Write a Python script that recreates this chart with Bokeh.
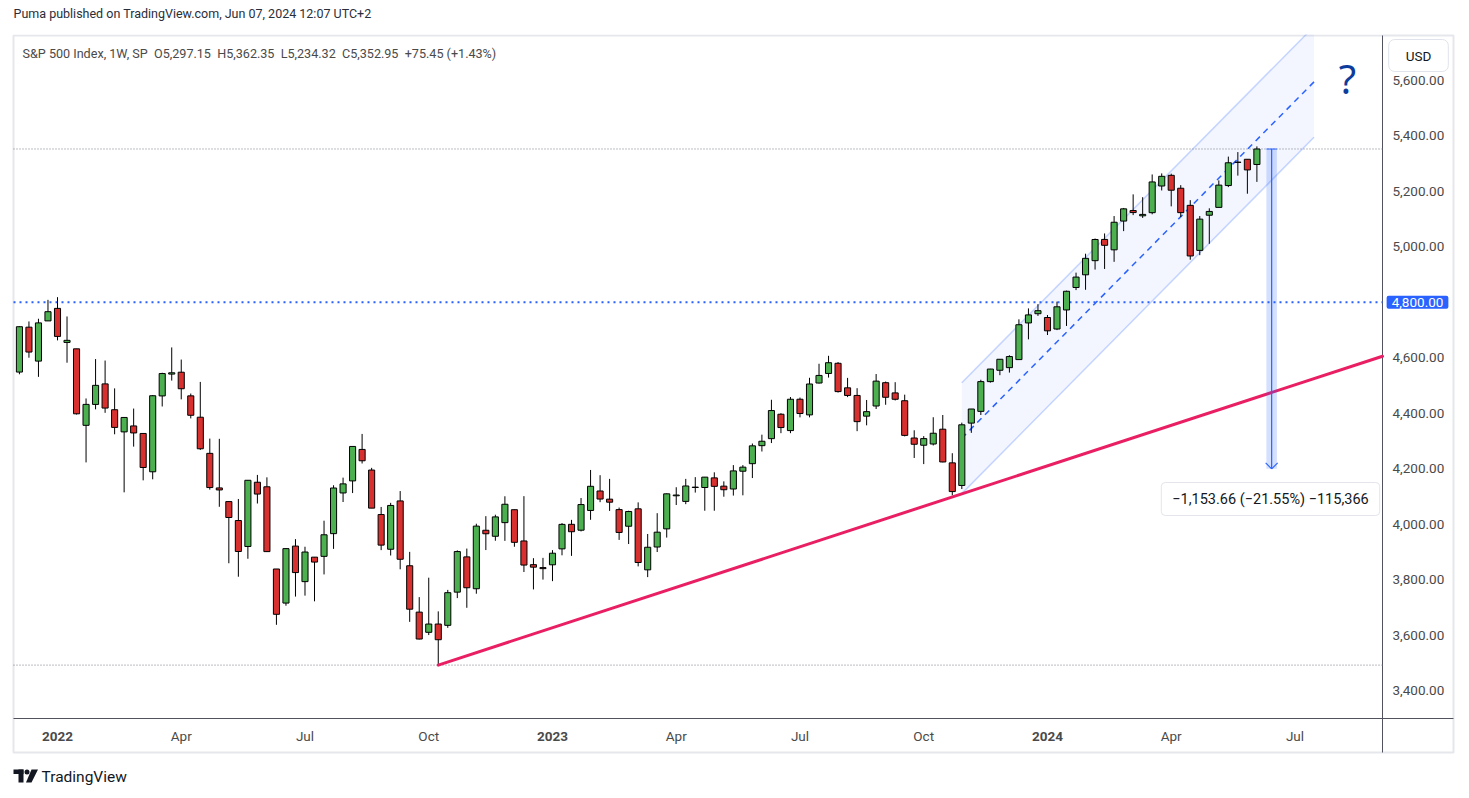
import pandas as pd
from bokeh.plotting import figure
from bokeh.models import (Range1d, FixedTicker, NumeralTickFormatter, Label,
                          LinearAxis, ColumnDataSource)
from bokeh.embed import file_html
from bokeh.resources import INLINE

# ---------------- data (weekly S&P 500) ----------------
FIRST_INDEX = -4  # week of 2021-12-06; index 0 = week of 2022-01-03

opens = [4548.4, 4710.3, 4587.9, 4733.0,
         4778.1, 4655.3, 4632.2, 4356.3, 4431.8, 4505.8, 4412.6, 4332.7, 4354.2, 4327.0,
         4188.8, 4462.4, 4541.1, 4547.9, 4462.6, 4385.6, 4255.3, 4130.6, 4081.3, 4013.0,
         3919.4, 4151.1, 4134.7, 3838.2, 3715.3, 3920.8, 3792.6, 3880.9, 3883.8, 3965.7,
         4112.4, 4155.9, 4269.4, 4195.1, 4034.6, 3909.4, 4083.7, 3849.9, 3682.7, 3609.8,
         3639.7, 3635.0, 3754.7, 3881.9, 3767.0, 3977.9, 3956.2, 4005.4, 4052.0, 3939.3,
         3853.8, 3843.3,
         3853.3, 3910.8, 3999.3, 3978.1, 4049.3, 4119.5, 4090.1, 4052.4, 3992.4, 4055.2,
         3835.1, 3917.5, 3982.9, 4102.2, 4082.0, 4132.1, 4132.1, 4166.8, 4137.0, 4126.7,
         4190.8, 4218.0, 4283.0, 4308.3, 4396.4, 4337.4, 4450.5, 4394.0, 4508.9, 4543.4,
         4580.1, 4491.6, 4464.1, 4389.4, 4426.0, 4510.1, 4473.3, 4445.1, 4310.6, 4284.5,
         4289.0, 4342.4, 4221.0, 4139.4, 4364.3, 4406.7, 4514.0, 4554.9, 4564.4, 4593.4,
         4725.6, 4758.9,
         4745.2, 4703.7, 4772.4, 4853.4, 4899.2, 4950.2, 5026.8, 4989.3, 5093.0, 5131.0,
         5112.0, 5123.3, 5219.5, 5258.0, 5211.4, 5149.7, 4987.3, 5114.1, 5142.4, 5221.1,
         5305.4, 5315.9, 5297.15]

highs = [4713.6, 4731.0, 4740.7, 4808.9,
         4818.6, 4749.0, 4632.2, 4453.2, 4595.3, 4590.0, 4489.6, 4385.3, 4416.8, 4327.0,
         4465.4, 4546.0, 4637.3, 4593.5, 4471.0, 4512.9, 4308.5, 4307.7, 4081.3, 4090.7,
         4158.5, 4177.5, 4168.8, 3838.2, 3913.7, 3945.9, 3918.5, 3880.9, 4012.4, 4140.2,
         4167.7, 4280.5, 4325.3, 4203.0, 4062.0, 4076.8, 4119.3, 3899.9, 3736.7, 3806.9,
         3685.4, 3762.8, 3905.4, 3911.8, 4001.5, 4028.8, 4034.0, 4100.5, 4052.5, 4100.9,
         3877.2, 3878.4,
         3906.2, 4003.9, 4015.4, 4094.2, 4195.4, 4176.5, 4163.2, 4059.8, 4048.3, 4078.5,
         3964.5, 4039.5, 4110.8, 4133.1, 4163.2, 4169.5, 4170.1, 4186.9, 4154.3, 4212.9,
         4212.9, 4290.7, 4322.6, 4448.5, 4400.2, 4458.5, 4456.5, 4527.8, 4578.4, 4607.1,
         4584.6, 4527.4, 4490.3, 4447.8, 4541.3, 4514.3, 4512.0, 4467.0, 4338.5, 4317.3,
         4385.5, 4393.6, 4255.8, 4366.0, 4415.3, 4520.7, 4560.0, 4595.0, 4609.2, 4738.6,
         4778.0, 4793.3,
         4754.3, 4802.4, 4842.1, 4907.0, 4975.3, 5030.1, 5048.4, 5111.1, 5140.3, 5189.3,
         5179.1, 5261.1, 5264.9, 5264.0, 5222.6, 5168.4, 5111.1, 5139.1, 5239.7, 5325.5,
         5341.9, 5315.9, 5362.35]

lows = [4540.5, 4600.2, 4531.1, 4733.0,
        4662.7, 4582.2, 4395.3, 4222.6, 4414.0, 4401.4, 4324.0, 4114.7, 4279.5, 4157.9,
        4161.7, 4424.3, 4517.7, 4450.0, 4381.3, 4267.6, 4124.3, 4062.5, 3858.9, 3810.3,
        3875.1, 4074.4, 3900.2, 3636.9, 3705.7, 3738.7, 3742.1, 3721.6, 3818.6, 3910.7,
        4079.8, 4112.1, 4218.7, 4057.7, 3906.2, 3886.8, 3837.1, 3647.5, 3584.1, 3599.9,
        3491.58, 3626.0, 3733.2, 3698.2, 3749.0, 3906.5, 3940.1, 3939.6, 3918.4, 3827.3,
        3764.5, 3800.0,
        3794.3, 3887.6, 3885.5, 3973.6, 4015.6, 4079.2, 4047.7, 3943.1, 3928.2, 3847.6,
        3808.9, 3899.4, 3951.5, 4068.9, 4072.0, 4113.8, 4048.3, 4048.3, 4098.9, 4103.0,
        4103.9, 4166.2, 4261.9, 4292.4, 4328.1, 4328.1, 4385.1, 4385.1, 4507.0, 4528.6,
        4474.6, 4458.1, 4335.3, 4356.3, 4415.2, 4430.5, 4446.0, 4316.5, 4238.6, 4216.5,
        4283.8, 4223.0, 4103.8, 4126.6, 4329.2, 4393.6, 4510.4, 4537.2, 4546.5, 4593.4,
        4666.4, 4751.0,
        4682.1, 4699.8, 4714.8, 4844.1, 4845.2, 4918.1, 4920.3, 4946.0, 5056.8, 5114.5,
        5104.4, 5117.5, 5203.4, 5146.1, 5107.9, 4953.6, 4970.0, 5011.1, 5142.4, 5215.6,
        5256.9, 5191.7, 5234.32]

closes = [4712.0, 4620.6, 4725.8, 4766.2,
          4677.0, 4662.9, 4397.9, 4431.9, 4500.5, 4418.6, 4348.9, 4384.7, 4328.9, 4204.3,
          4463.1, 4543.1, 4545.9, 4488.3, 4392.6, 4271.8, 4131.9, 4123.3, 4023.9, 3901.4,
          4158.2, 4108.5, 3900.9, 3674.8, 3911.7, 3825.3, 3899.4, 3863.2, 3961.6, 4130.3,
          4145.2, 4280.2, 4228.5, 4057.7, 3924.3, 4067.4, 3873.3, 3693.2, 3585.6, 3639.7,
          3583.1, 3752.8, 3901.1, 3770.6, 3992.9, 3965.3, 4026.1, 4071.7, 3934.4, 3852.4,
          3844.8, 3839.5,
          3895.1, 3999.1, 3972.6, 4070.6, 4136.5, 4090.5, 4079.1, 3970.0, 4045.6, 3861.6,
          3916.6, 3971.0, 4109.3, 4105.0, 4137.6, 4133.5, 4169.5, 4136.3, 4124.1, 4192.0,
          4205.5, 4282.4, 4298.9, 4409.6, 4348.3, 4450.4, 4399.0, 4505.4, 4536.3, 4582.2,
          4478.0, 4464.1, 4369.7, 4405.7, 4515.8, 4457.5, 4450.3, 4320.1, 4288.1, 4308.5,
          4327.8, 4224.2, 4117.4, 4358.3, 4415.2, 4514.0, 4559.3, 4594.6, 4604.4, 4719.2,
          4754.6, 4769.8,
          4697.2, 4783.8, 4839.8, 4891.0, 4958.6, 5026.6, 5005.6, 5088.8, 5137.1, 5123.7,
          5117.1, 5234.2, 5254.4, 5204.3, 5123.4, 4967.2, 5100.0, 5127.8, 5222.7, 5303.3,
          5304.7, 5277.5, 5352.95]

week_index = list(range(FIRST_INDEX, FIRST_INDEX + len(opens)))
week_dates = [d.strftime("%Y-%m-%d") for d in
              pd.date_range("2021-12-06", periods=len(opens), freq="W-MON")]

time_tick_index = [0, 13, 26, 39, 52, 65, 78, 91, 104, 117, 130]
time_tick_labels = ["2022", "Apr", "Jul", "Oct", "2023", "Apr", "Jul", "Oct", "2024", "Apr", "Jul"]
price_ticks = [3400, 3600, 3800, 4000, 4200, 4400, 4600, 5000, 5200, 5400, 5600]

level_line = 4800.0
low_line = min(lows)
last_close = closes[-1]

trend_anchor_x = [40, 94]
trend_anchor_y = [3491.58, 4098.0]

channel_x = [95, 132]
channel_lower = [4110.0, 5395.0]
channel_height = 400.0

measure_x = [127.0, 128.1]
measure_from = 5352.95
measure_to = 4199.29

# ---------------- layout (frame covers the page; pixel helpers) ----------------
W, H = 1469, 798
PX0, PX_PER_WEEK = 57.0, 9.519          # pixel of week index 0, pixels per week
PY_5600, PX_PER_PT = 80.0, 0.27727       # pixel of 5,600, pixels per index point
X0, X1 = -PX0 / PX_PER_WEEK, (W - PX0) / PX_PER_WEEK
Y1 = 5600 + PY_5600 / PX_PER_PT
Y0 = 5600 - (H - PY_5600) / PX_PER_PT


def xd(px):
    return X0 + px * (X1 - X0) / W


def yd(py):
    return Y1 - py * (Y1 - Y0) / H


BOX_L, BOX_R, BOX_T, BOX_B = 13, 1453, 35, 752     # chart container
PANE_R, PANE_B = 1382, 718                         # price / time axis separators

FONT = "Roboto"
TXT = "#4A4A4A"
SEP = "#50535E"

p = figure(width=W, height=H, x_range=Range1d(X0, X1), y_range=Range1d(Y0, Y1),
           y_axis_location="right", toolbar_location=None, output_backend="svg",
           min_border=0, outline_line_color=None,
           background_fill_color="white", border_fill_color="white")
p.xgrid.visible = False
p.ygrid.visible = False

# container border
p.quad(left=xd(BOX_L), right=xd(BOX_R), top=yd(BOX_T), bottom=yd(BOX_B),
       fill_color=None, line_color="#E6E7EC", line_width=2)


# axes (fixed inside the container, like TradingView's scales)
def style_axis(ax):
    ax.axis_line_color = None
    ax.major_tick_line_color = None
    ax.minor_tick_line_color = None
    ax.major_tick_out = 0
    ax.major_tick_in = 0
    ax.major_label_text_font = FONT
    ax.major_label_text_font_size = "13.5px"
    ax.major_label_text_color = TXT


xa = p.xaxis[0]
xa.fixed_location = yd(PANE_B)
xa.ticker = FixedTicker(ticks=[i for i, lab in zip(time_tick_index, time_tick_labels)
                               if not lab.isdigit()])
xa.major_label_overrides = {i: lab for i, lab in zip(time_tick_index, time_tick_labels)
                            if not lab.isdigit()}
style_axis(xa)
xa.major_label_standoff = 9

xa_years = LinearAxis(fixed_location=yd(PANE_B),
                      ticker=FixedTicker(ticks=[i for i, lab in zip(time_tick_index, time_tick_labels)
                                                if lab.isdigit()]),
                      major_label_overrides={i: lab for i, lab in zip(time_tick_index, time_tick_labels)
                                             if lab.isdigit()})
style_axis(xa_years)
xa_years.major_label_standoff = 13
xa_years.major_label_text_font_style = "bold"
p.add_layout(xa_years, "below")

ya = p.yaxis[0]
ya.fixed_location = xd(PANE_R)
ya.ticker = FixedTicker(ticks=price_ticks)
ya.formatter = NumeralTickFormatter(format="0,0.00")
style_axis(ya)
ya.major_label_standoff = 10

# separators of the price and time scales
p.segment(x0=[xd(PANE_R), xd(BOX_L)], y0=[yd(BOX_T), yd(PANE_B)],
          x1=[xd(PANE_R), xd(BOX_R)], y1=[yd(BOX_B), yd(PANE_B)],
          line_color=SEP, line_width=1)

# parallel channel
cx = [channel_x[0], channel_x[1], channel_x[1], channel_x[0]]
cy = [channel_lower[0] + channel_height, channel_lower[1] + channel_height,
      channel_lower[1], channel_lower[0]]
p.patch(cx, cy, fill_color="#2962FF", fill_alpha=0.055, line_color=None)
p.line(channel_x, [v + channel_height for v in channel_lower], line_color="#2962FF",
       line_alpha=0.25, line_width=1.5)
p.line(channel_x, channel_lower, line_color="#2962FF", line_alpha=0.25, line_width=1.5)
p.line(channel_x, [v + channel_height / 2 for v in channel_lower], line_color="#2962FF",
       line_width=1.5, line_dash="6 5")

# white cover above the container so the channel does not leak out of the pane
p.quad(left=xd(BOX_L), right=xd(PANE_R), top=yd(0), bottom=yd(BOX_T - 1),
       fill_color="white", line_color=None)

# horizontal levels (stop at the price scale)
p.segment(x0=[xd(BOX_L)] * 2, y0=[last_close, low_line], x1=[xd(PANE_R)] * 2,
          y1=[last_close, low_line], line_color="#787B86", line_width=1, line_dash="1 2")
p.segment(x0=[xd(BOX_L)], y0=[level_line], x1=[xd(PANE_R)], y1=[level_line],
          line_color="#2962FF", line_width=2, line_dash="2 4")

# candles
src = ColumnDataSource(dict(
    x=week_index, date=week_dates, o=opens, h=highs, l=lows, c=closes,
    top=[max(o, c) for o, c in zip(opens, closes)],
    bottom=[min(o, c) for o, c in zip(opens, closes)],
    color=["#4CAF50" if c >= o else "#D8302F" for o, c in zip(opens, closes)],
))
p.segment(x0="x", y0="h", x1="x", y1="l", source=src, line_color="black", line_width=1)
p.vbar(x="x", width=0.64, top="top", bottom="bottom", source=src,
       fill_color="color", line_color="black", line_width=1)

# trend line (ray up to the price scale)
slope = (trend_anchor_y[1] - trend_anchor_y[0]) / (trend_anchor_x[1] - trend_anchor_x[0])
x_end = xd(PANE_R)
p.line([trend_anchor_x[0], x_end],
       [trend_anchor_y[0], trend_anchor_y[0] + slope * (x_end - trend_anchor_x[0])],
       line_color="#E91E63", line_width=3, line_cap="round")

# price range measurement
mx_mid = (measure_x[0] + measure_x[1]) / 2
p.quad(left=measure_x[0], right=measure_x[1], top=measure_from, bottom=measure_to,
       fill_color="#2962FF", fill_alpha=0.2, line_color=None)
p.segment(x0=[mx_mid, measure_x[0]], y0=[measure_from, measure_from],
          x1=[mx_mid, measure_x[1]], y1=[measure_to, measure_from],
          line_color="#2962FF", line_width=1.2)
ax_w = 6 / PX_PER_WEEK
ay_h = 6 / PX_PER_PT
p.segment(x0=[mx_mid - ax_w, mx_mid + ax_w], y0=[measure_to + ay_h, measure_to + ay_h],
          x1=[mx_mid, mx_mid], y1=[measure_to, measure_to],
          line_color="#2962FF", line_width=1.2)


def set_box(lbl, l, r, t, b, radius):
    for val in (dict(left=l, right=r, top=t, bottom=b), max(l, t)):
        try:
            lbl.padding = val
            break
        except Exception:
            pass
    try:
        lbl.border_radius = radius
    except Exception:
        pass


def fmt_signed(v, spec, minus="\u2212"):
    return (minus if v < 0 else "+") + format(abs(v), spec)


diff = measure_to - measure_from
pct = diff / measure_from * 100
nticks = round(diff / 0.01)
measure_text = "%s (%s%%) %s" % (fmt_signed(diff, ",.2f"), fmt_signed(pct, ".2f"),
                                 fmt_signed(nticks, ",d"))
ml = Label(x=xd(1270), y=yd(498.5), text=measure_text, text_align="center",
           text_baseline="middle", text_font=FONT, text_font_size="14.5px",
           text_color="#131722", background_fill_color="white",
           border_line_color="#E3E5EA", border_line_width=1)
set_box(ml, 11, 11, 8, 8, 4)
p.add_layout(ml)

# question mark
p.add_layout(Label(x=xd(1347), y=yd(78), text="?", text_align="center",
                   text_baseline="middle", text_font="Noto Sans", text_font_size="40px",
                   text_color="#0D3C9C"))

# legend line
NB = "\u00a0"
prev_close = closes[-2]
chg = last_close - prev_close
legend = ("S&P 500 Index, 1W, SP" + NB * 2 + "O" + format(opens[-1], ",.2f") + NB * 2 +
          "H" + format(highs[-1], ",.2f") + NB * 2 + "L" + format(lows[-1], ",.2f") + NB * 2 +
          "C" + format(closes[-1], ",.2f") + NB * 2 + fmt_signed(chg, ".2f", "-") +
          " (" + fmt_signed(chg / prev_close * 100, ".2f", "-") + "%)")
p.add_layout(Label(x=xd(22), y=yd(53), text=legend, text_align="left",
                   text_baseline="middle", text_font=FONT, text_font_size="12.6px",
                   text_color=TXT))

# 4,800 price tag on the scale
tag = Label(x=xd(1417), y=level_line, text=format(level_line, ",.2f"), text_align="center",
            text_baseline="middle", text_font=FONT, text_font_size="13.5px",
            text_color="white", background_fill_color="#2962FF")
set_box(tag, 5, 5, 2, 2, 2)
p.add_layout(tag)

# USD box
usd = Label(x=xd(1418), y=yd(55), text="USD", text_align="center", text_baseline="middle",
            text_font=FONT, text_font_size="13.5px", text_color="#131722",
            background_fill_color="white", border_line_color="#E0E3EB", border_line_width=1)
set_box(usd, 17, 17, 8, 8, 6)
p.add_layout(usd)

# header
p.add_layout(Label(x=xd(13), y=yd(13),
                   text="Puma published on TradingView.com, Jun 07, 2024 12:07 UTC+2",
                   text_align="left", text_baseline="middle", text_font=FONT,
                   text_font_size="12.5px", text_color="#2A2E39"))

# footer: TradingView logo + name
p.quad(left=[xd(13), xd(18)], right=[xd(23), xd(23)], top=[yd(769), yd(769)],
       bottom=[yd(773.5), yd(782)], fill_color="#131722", line_color=None)
p.scatter([xd(26.5)], [yd(771.5)], size=5, fill_color="#131722", line_color=None)
p.patch([xd(31), xd(37.5), xd(31), xd(25.5)], [yd(769), yd(769), yd(782), yd(782)],
        fill_color="#131722", line_color=None)
p.add_layout(Label(x=xd(41), y=yd(776), text="TradingView", text_align="left",
                   text_baseline="middle", text_font=FONT, text_font_size="15.5px",
                   text_color="#131722"))

open("out.html", "w").write(file_html(p, INLINE))
